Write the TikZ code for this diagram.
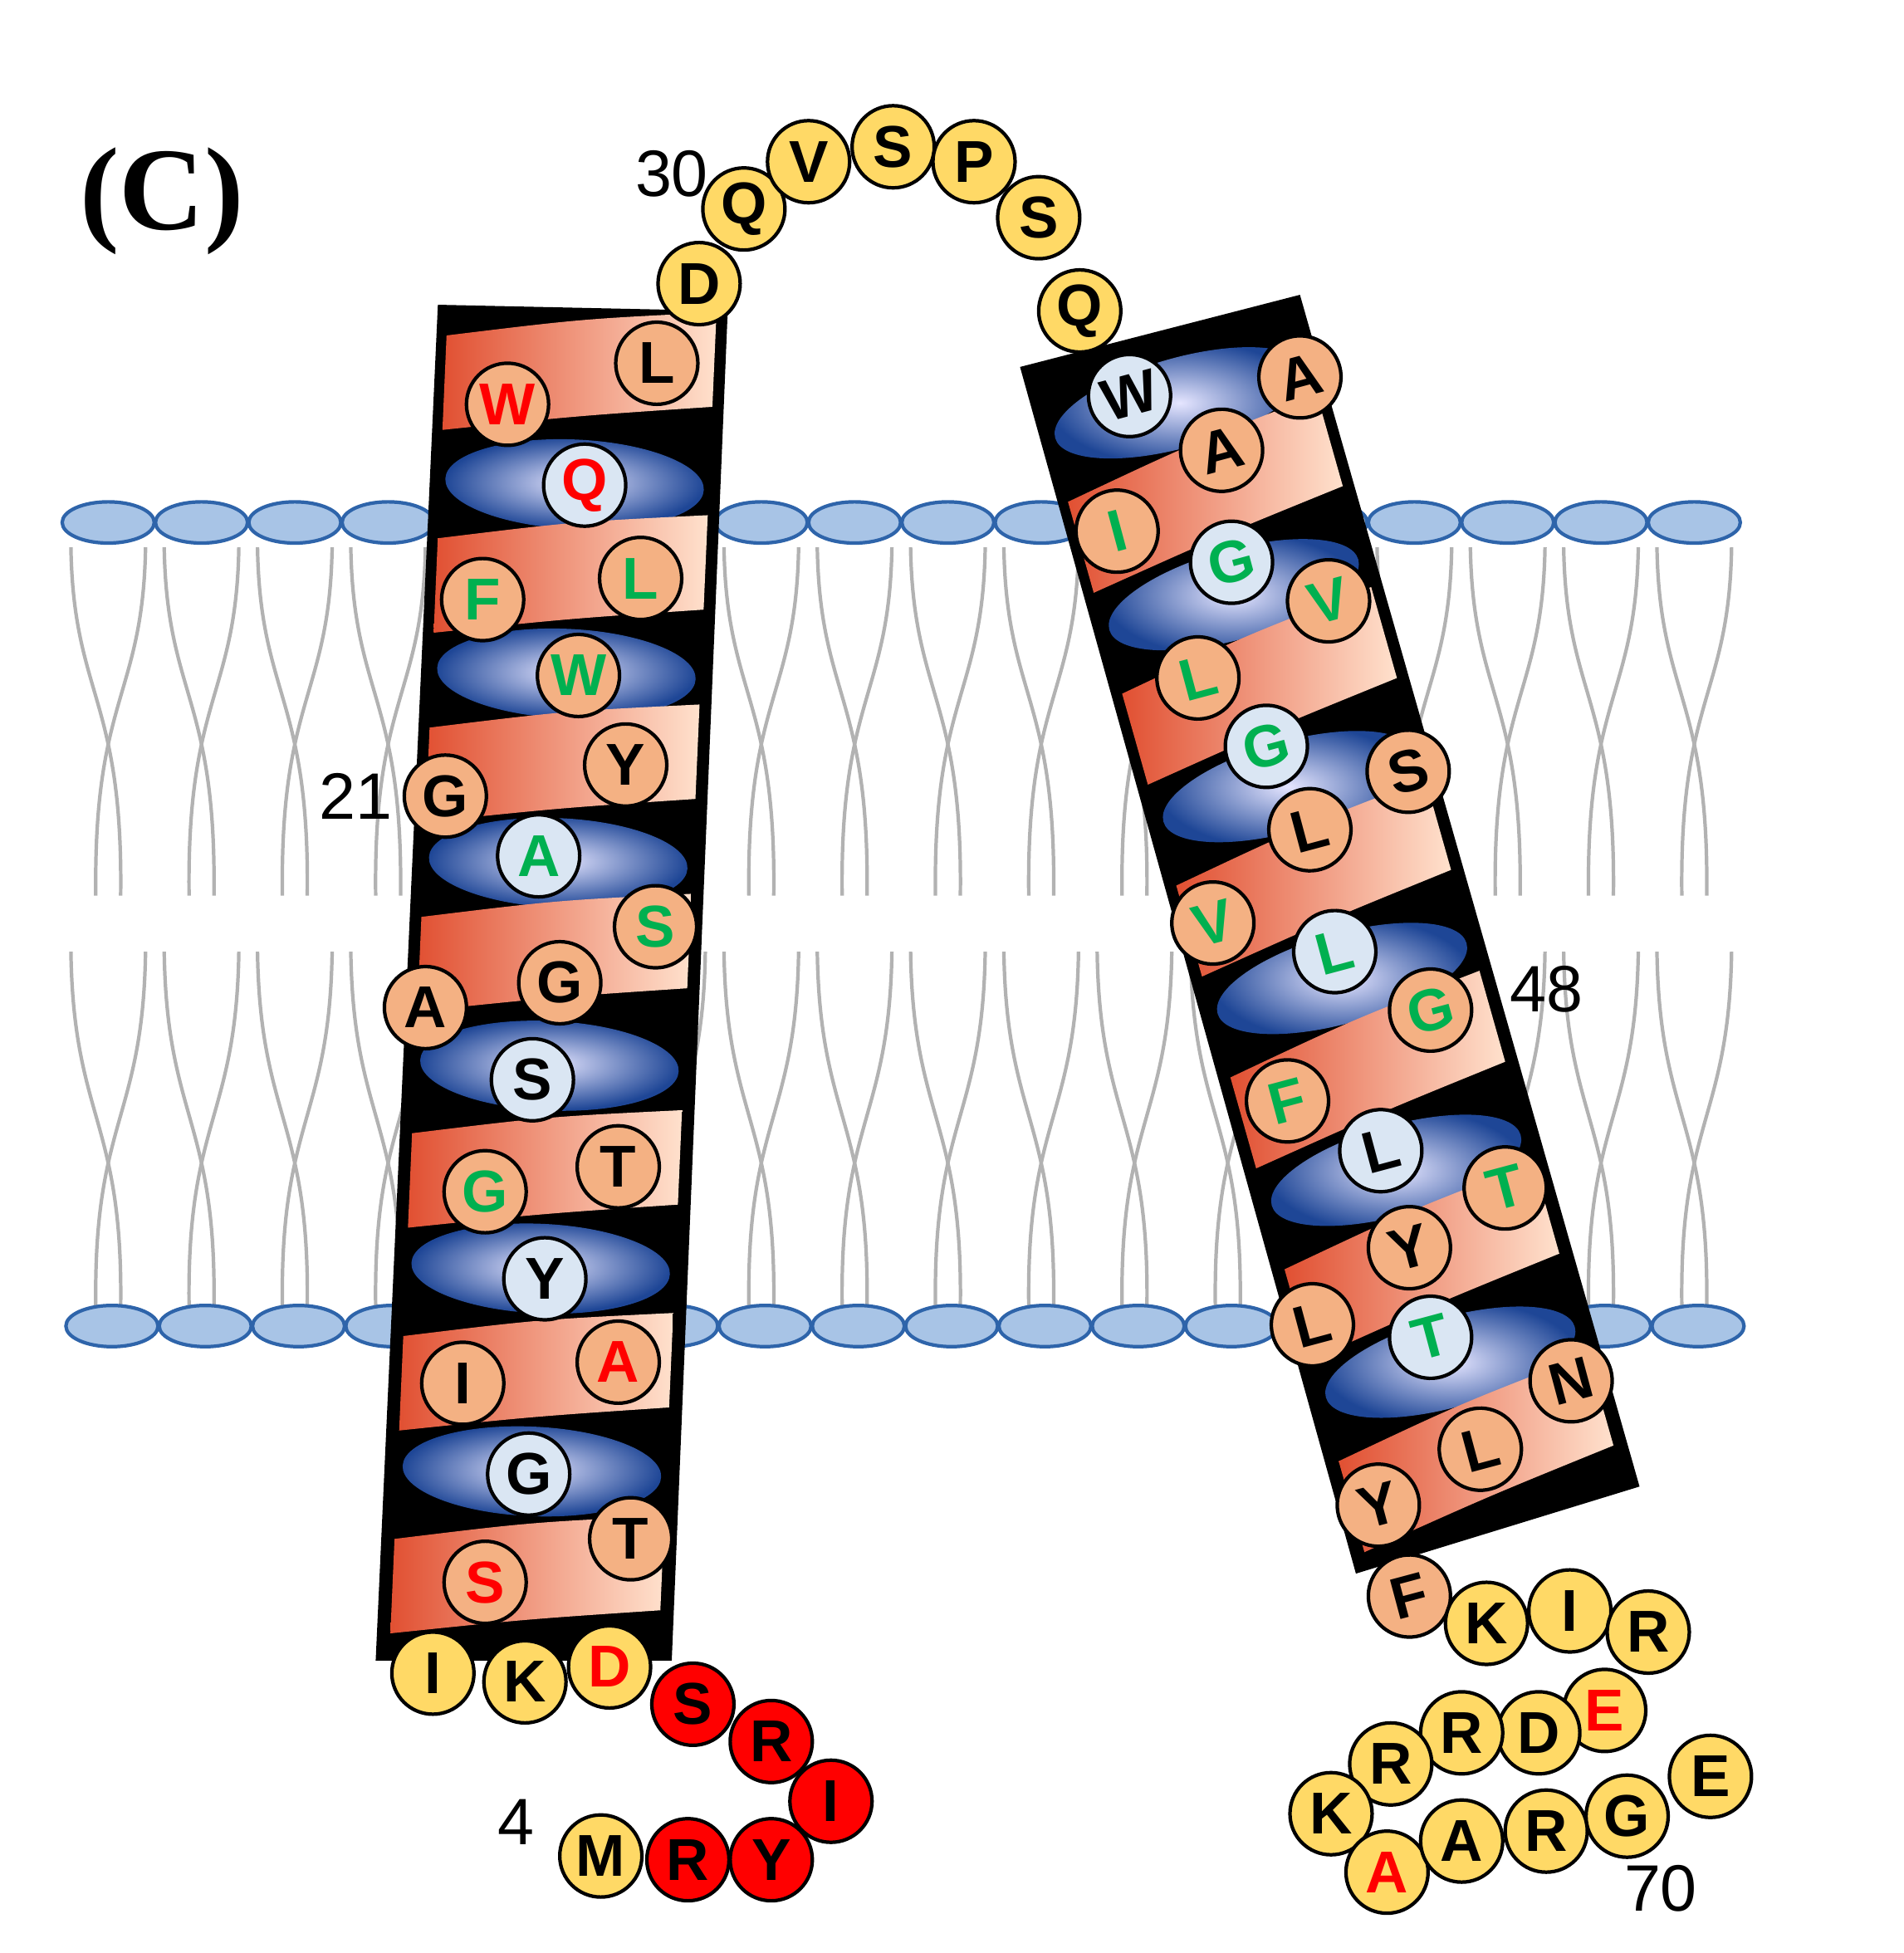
\documentclass[tikz,border=0pt]{standalone}
\usepackage{fontspec}
\newfontfamily\resfont{Liberation Sans}
\newfontfamily\panelfont{Liberation Serif}
\usetikzlibrary{calc, shapes.geometric}
\definecolor{resor}{RGB}{244,177,131}
\definecolor{resbl}{RGB}{218,230,243}
\definecolor{resye}{RGB}{255,217,102}
\definecolor{resgr}{RGB}{0,176,80}
\definecolor{headbl}{RGB}{168,196,230}
\definecolor{headln}{RGB}{46,100,170}
\begin{document}
\begin{tikzpicture}[x=0.01cm, y=0.01cm,
    res/.style={circle, draw=black, thick, minimum size=0.66cm, inner sep=0pt,
      font=\resfont\bfseries\fontsize{13.5}{14}\selectfont},
    or/.style={res, fill=resor},
    bl/.style={res, fill=resbl},
    ye/.style={res, fill=resye},
    rd/.style={res, fill=red},
    head/.style={ellipse, draw=headln, thick, fill=headbl, minimum width=0.74cm, minimum height=0.3cm},
    tail/.style={gray!60, thick},
    num/.style={font=\resfont\fontsize{15}{15}\selectfont},
    ]
  \useasboundingbox (0,0) rectangle (1530,-1570);
  % membrane
  \foreach \x in {87,162,237,312,387,462,537,612,687,762,837,912,987,1062,1137,1212,1287,1362} {
    \draw[tail] (\x-30,-440) .. controls (\x-28,-560) and (\x+12,-560) .. (\x+10,-720);
    \draw[tail] (\x+30,-440) .. controls (\x+28,-560) and (\x-12,-560) .. (\x-10,-720);
    \draw[tail] (\x-30,-765) .. controls (\x-28,-900) and (\x+12,-900) .. (\x+10,-1050);
    \draw[tail] (\x+30,-765) .. controls (\x+28,-900) and (\x-12,-900) .. (\x-10,-1050);
    \node[head] (ht\x) at (\x,-420) {};
    \node[head] (hb\x) at (\x+3,-1066) {};
  }
  % helix backgrounds
  \coordinate (lt) at (468,-248);
  \coordinate (lb) at (421,-1335);
  \coordinate (rt) at (932,-266);
  \coordinate (rb) at (1204,-1230);
  \fill[black] (352,-245) -- (585,-250) -- (540,-1335) -- (302,-1335) -- cycle;
  \fill[black] (820,-295) -- (1045,-237) -- (1318,-1195) -- (1090,-1265) -- cycle;
  \begin{scope}
    \clip (352,-245) -- (585,-250) -- (540,-1335) -- (302,-1335) -- cycle;
    \foreach \t in {0.13,0.27,0.41,0.56,0.71,0.86} {
      \begin{scope}[shift={($(lt)!\t!(lb)$)}, rotate=-2.5]
        \shade[inner color=white!90!blue, outer color={rgb,255:red,30;green,70;blue,150}]
          (0,0) ellipse (104 and 36);
      \end{scope}
    }
    \foreach \t in {0.05,0.20,0.34,0.48,0.64,0.79,0.94} {
      \begin{scope}[shift={($(lt)!\t!(lb)$)}, rotate=-2.5]
        \shade[left color={rgb,255:red,225;green,80;blue,50}, right color={rgb,255:red,255;green,225;blue,205}]
          (-108,-48) -- (-108,28) .. controls (0,46) .. (108,56) -- (108,-20) .. controls (0,-32) .. cycle;
      \end{scope}
    }
  \end{scope}
  \begin{scope}
    \clip (820,-295) -- (1045,-237) -- (1318,-1195) -- (1090,-1265) -- cycle;
    \foreach \t in {0.06,0.22,0.38,0.54,0.70,0.86} {
      \begin{scope}[shift={($(rt)!\t!(rb)$)}, rotate=15.8]
        \shade[inner color=white!90!blue, outer color={rgb,255:red,30;green,70;blue,150}]
          (0,0) ellipse (104 and 36);
      \end{scope}
    }
    \foreach \t in {0.14,0.30,0.46,0.62,0.78,0.94} {
      \begin{scope}[shift={($(rt)!\t!(rb)$)}, rotate=15.8]
        \shade[left color={rgb,255:red,225;green,80;blue,50}, right color={rgb,255:red,255;green,225;blue,205}]
          (-108,-48) -- (-108,28) .. controls (0,46) .. (108,56) -- (108,-20) .. controls (0,-32) .. cycle;
      \end{scope}
    }
  \end{scope}
  % loop 1 and left helix
  \foreach \n/\x/\y/\s/\c/\l in {
      d29/562/228/ye/black/D, q30/598/168/ye/black/Q, v31/650/130/ye/black/V,
      s32/718/118/ye/black/S, p33/783/130/ye/black/P, s34/835/175/ye/black/S,
      q35/868/250/ye/black/Q,
      l28/528/292/or/black/L, w27/408/325/or/red/W, q26/470/390/bl/red/Q,
      f25/388/482/or/resgr/F, l24/515/465/or/resgr/L, w23/465/543/or/resgr/W,
      y22/503/615/or/black/Y, g21/358/640/or/black/G, a20/433/688/bl/resgr/A,
      s19/527/745/or/resgr/S, a18/342/810/or/black/A, g17/450/790/or/black/G,
      s16/428/868/bl/black/S, t15/497/938/or/black/T, g14/390/958/or/resgr/G,
      y13/438/1028/bl/black/Y, a12/497/1095/or/red/A, i11/372/1112/or/black/I,
      g10/425/1185/bl/black/G, t9/507/1237/or/black/T, s8/390/1272/or/red/S,
      i7/348/1345/ye/black/I, k6/422/1352/ye/black/K, d5/490/1340/ye/red/D,
      s4/557/1370/rd/black/S, r3/620/1400/rd/black/R, i2/668/1448/rd/black/I,
      y1/620/1495/rd/black/Y, r0/553/1495/rd/black/R, m0/483/1492/ye/black/M}
    \node[\s, text=\c] (\n) at (\x,-\y) {\l};
  % right helix and C-terminus
  \foreach \n/\x/\y/\s/\c/\l in {
      w36/908/318/bl/black/W, a37/1045/303/or/black/A, a38/982/362/or/black/A,
      i39/898/427/or/resgr/I, g40/990/452/bl/resgr/G, v41/1068/483/or/resgr/V,
      l42/963/545/or/resgr/L, g43/1018/600/bl/resgr/G, s44/1132/620/or/black/S,
      l45/1053/667/or/black/L, v46/975/742/or/resgr/V, l47/1073/765/bl/resgr/L,
      g48/1150/812/or/resgr/G, f49/1035/885/or/resgr/F, l50/1110/925/bl/black/L,
      t51/1210/955/or/resgr/T, y52/1133/1003/or/black/Y, l53/1055/1065/or/black/L,
      t54/1150/1075/bl/resgr/T, n55/1263/1110/or/black/N, l56/1190/1165/or/black/L,
      y57/1108/1210/or/black/Y, f58/1133/1283/or/black/F}
    \node[\s, text=\c, rotate=15] (\n) at (\x,-\y) {\l};
  \foreach \n/\x/\y/\s/\c/\l in {
      k59/1195/1305/ye/black/K, i60/1262/1295/ye/black/I, r61/1325/1312/ye/black/R,
      e62/1290/1375/ye/red/E, d63/1237/1393/ye/black/D, r64/1175/1393/ye/black/R,
      r65/1118/1418/ye/black/R, k66/1070/1458/ye/black/K, a67/1115/1505/ye/red/A,
      a68/1175/1480/ye/black/A, r69/1243/1472/ye/black/R, g70/1308/1460/ye/black/G,
      e71/1375/1428/ye/black/E}
    \node[\s, text=\c] (\n) at (\x,-\y) {\l};
  % labels
  \node[font=\panelfont\bfseries\fontsize{27}{30}\selectfont] (panel) at (130,-162) {(C)};
  \node[num] (lab30) at (540,-140) {30};
  \node[num] (lab21) at (286,-640) {21};
  \node[num] (lab4) at (415,-1465) {4};
  \node[num] (lab48) at (1243,-795) {48};
  \node[num] (lab70) at (1335,-1518) {70};
\end{tikzpicture}
\end{document}
